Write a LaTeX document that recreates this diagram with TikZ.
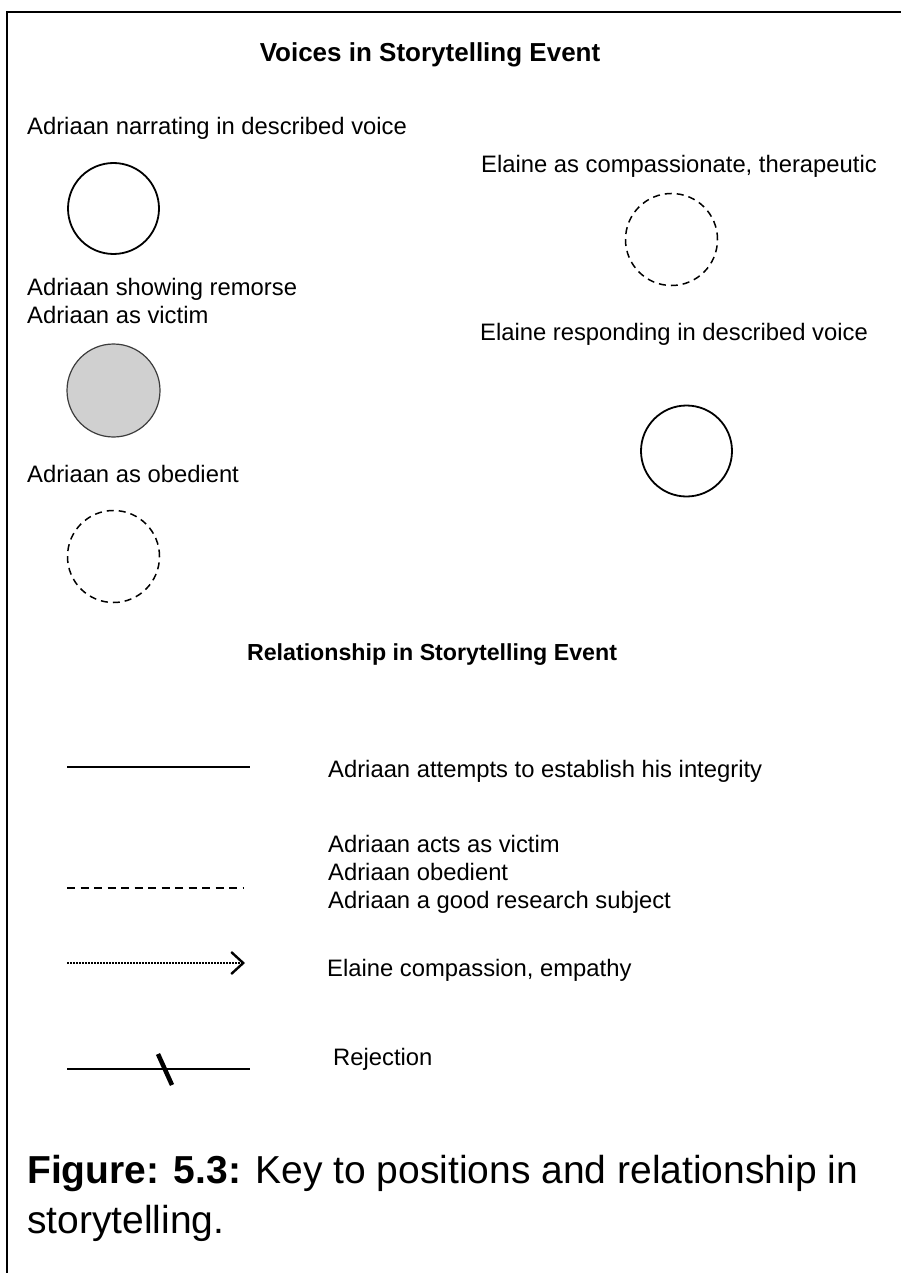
\documentclass[tikz,border=0pt]{standalone}
\usepackage{fontspec}
\setmainfont{Liberation Sans}
\usetikzlibrary{arrows.meta}
\definecolor{keycolor0001}{RGB}{208,208,208}
\definecolor{keycolor0002}{RGB}{60,60,60}

\begin{document}
\begin{tikzpicture}[yscale=-1
,pstyle0/.style={color=black,line width=2.5pt}
,pstyle1/.style={draw=black,fill=white,line width=1.8pt,circle,inner sep=0pt,minimum size=91pt}
,pstyle2/.style={draw=black,line width=1.5pt,dash pattern=on 7pt off 5pt,circle,inner sep=0pt,minimum size=92pt}
,pstyle3/.style={draw=keycolor0002,fill=keycolor0001,line width=1.2pt,circle,inner sep=0pt,minimum size=93pt}
,pstyle4/.style={color=black,line width=2pt}
,pstyle5/.style={color=black,line width=2pt,dash pattern=on 8pt off 5.5pt}
,pstyle6/.style={color=black,line width=2.4pt,dash pattern=on 2pt off 1pt,-{Straight Barb[length=12pt,width=22pt,line width=2.4pt,sep=0pt]}}
,pstyle7/.style={color=black,line width=4.5pt}
,tstyle0/.style={inner sep=0pt,font=\fontsize{23.8pt}{28pt}\selectfont}
,tstyle1/.style={inner sep=0pt,font=\bfseries\fontsize{26pt}{30pt}\selectfont}
]
\useasboundingbox (0pt,0pt) rectangle (901pt,1273pt);
\draw[pstyle0] (7pt,1273pt) -- (7pt,12pt) -- (901pt,12pt);
% voices
\node (voices) at (430pt,62pt)[tstyle1,anchor=base]{Voices in Storytelling Event};
\node (narrating) at (27pt,135pt)[tstyle0,anchor=base west]{Adriaan narrating in described voice};
\node (narratingc) at (113.5pt,208.5pt)[pstyle1]{};
\node (therapeutic) at (481pt,173pt)[tstyle0,anchor=base west]{Elaine as compassionate, therapeutic};
\node (therapeuticc) at (671.5pt,239.5pt)[pstyle2]{};
\node (remorse) at (27pt,277.8pt)[tstyle0,anchor=north west,align=left]{Adriaan showing remorse\\Adriaan as victim};
\node (remorsec) at (113.5pt,390.5pt)[pstyle3]{};
\node (responding) at (480pt,340pt)[tstyle0,anchor=base west]{Elaine responding in described voice};
\node (respondingc) at (686.5pt,451pt)[pstyle1]{};
\node (obedient) at (27pt,482pt)[tstyle0,anchor=base west]{Adriaan as obedient};
\node (obedientc) at (113.5pt,556.5pt)[pstyle2]{};
% relationship
\node (relationship) at (432pt,660pt)[tstyle1,anchor=base,font=\bfseries\fontsize{23.2pt}{28pt}\selectfont]{Relationship in Storytelling Event};
\coordinate (integritya) at (67pt,767pt);
\coordinate (integrityb) at (250pt,767pt);
\draw[pstyle4] (integritya) -- (integrityb);
\node (integrity) at (328pt,777pt)[tstyle0,anchor=base west]{Adriaan attempts to establish his integrity};
\coordinate (subjecta) at (67pt,888pt);
\coordinate (subjectb) at (243pt,888pt);
\draw[pstyle5] (subjecta) -- (subjectb);
\node (subject) at (328pt,834.8pt)[tstyle0,anchor=north west,align=left]{Adriaan acts as victim\\Adriaan obedient\\Adriaan a good research subject};
\coordinate (empathya) at (67pt,963pt);
\coordinate (empathyb) at (245pt,963pt);
\draw[pstyle6] (empathya) -- (empathyb);
\node (empathy) at (327pt,976pt)[tstyle0,anchor=base west]{Elaine compassion, empathy};
\coordinate (rejectiona) at (67pt,1069pt);
\coordinate (rejectionb) at (250pt,1069pt);
\coordinate (slasha) at (158pt,1054pt);
\coordinate (slashb) at (172pt,1085pt);
\draw[pstyle4] (rejectiona) -- (rejectionb);
\draw[pstyle7] (slasha) -- (slashb);
\node (rejection) at (333pt,1065pt)[tstyle0,anchor=base west]{Rejection};
% caption
\node (caption) at (27pt,1154.6pt)[inner sep=0pt,anchor=north west,align=left,font=\fontsize{39pt}{50pt}\selectfont]{\textbf{Figure: 5.3:} Key to positions and relationship in\\storytelling.};
\end{tikzpicture}
\end{document}
